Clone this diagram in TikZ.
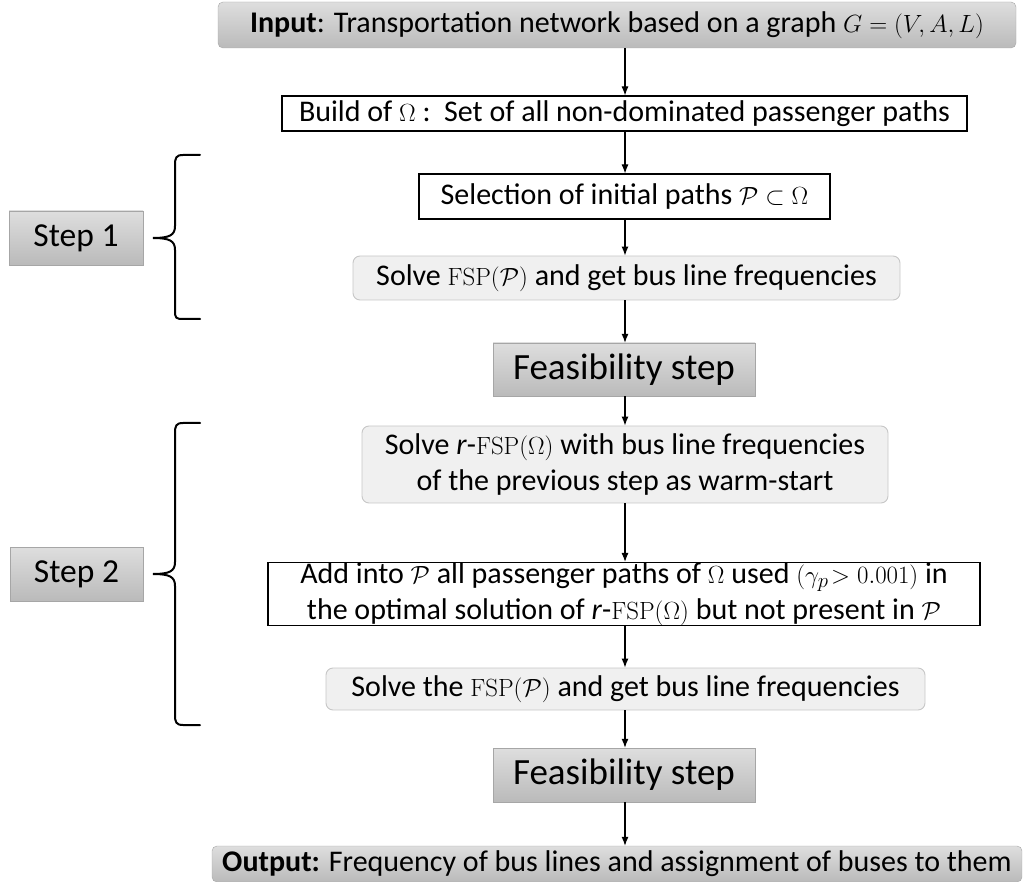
\documentclass[tikz,border=0pt]{standalone}
\usepackage[no-math]{fontspec}
\setmainfont{Carlito}
\usetikzlibrary{arrows.meta}
\begin{document}
\begin{tikzpicture}[x=1pt,y=-1pt,
  every node/.style={inner sep=0pt, align=center},
  darkbox/.style={draw=black!35, top color=black!13, bottom color=black!27, font=\fontsize{37}{42}\selectfont},
  stepbox/.style={darkbox, font=\fontsize{33.5}{40}\selectfont},
  darkround/.style={darkbox, rounded corners=5pt, font=\fontsize{30}{34}\selectfont},
  lightround/.style={draw=black!22, fill=black!6, rounded corners=7pt, line width=0.9pt, font=\fontsize{30}{36}\selectfont},
  plainbox/.style={draw=black, fill=white, line width=1.1pt, font=\fontsize{30}{36}\selectfont},
  arr/.style={-{Latex[length=9pt,width=7pt]}, line width=1.1pt},
  bracestyle/.style={line width=2pt, line cap=round}
]
\useasboundingbox (0,0) rectangle (1026,882);
\coordinate (col) at (625,0);
\node[darkround, minimum width=798pt, minimum height=46pt] (in) at (617,25)
  {\textbf{Input}: Transportation network based on a graph $G=(V,A,L)$};
\node[plainbox, minimum width=685pt, minimum height=35pt] (build) at (624.5,113.5)
  {Build of $\Omega$ :\ \ Set of all non-dominated passenger paths};
\node[plainbox, minimum width=411pt, minimum height=45pt] (sel) at (624.5,196.5)
  {Selection of initial paths $\mathcal{P}\subset\Omega$};
\node[lightround, minimum width=547pt, minimum height=44pt] (fsp1) at (626.5,278)
  {Solve $\mathrm{FSP}(\mathcal{P})$ and get bus line frequencies};
\node[darkbox, minimum width=262pt, minimum height=53pt] (feas1) at (624,369.5)
  {Feasibility step};
\node[lightround, minimum width=526pt, minimum height=77pt] (rfsp) at (625,464.5)
  {Solve \textit{r}-$\mathrm{FSP}(\Omega)$ with bus line frequencies\\of the previous step as warm-start};
\node[plainbox, minimum width=712pt, minimum height=56pt] (add) at (624,594)
  {Add into $\mathcal{P}$ all passenger paths of $\Omega$ used $(\gamma_p\!> 0.001)$ in\\the optimal solution of \textit{r}-$\mathrm{FSP}(\Omega)$ but not present in $\mathcal{P}$};
\node[lightround, minimum width=599pt, minimum height=42pt] (fsp2) at (625.5,689)
  {Solve the $\mathrm{FSP}(\mathcal{P})$ and get bus line frequencies};
\node[darkbox, minimum width=262pt, minimum height=54pt] (feas2) at (624,775)
  {Feasibility step};
\node[darkround, minimum width=810pt, minimum height=36pt] (out) at (617,864)
  {\textbf{Output:} Frequency of bus lines and assignment of buses to them};
\node[stepbox, minimum width=134pt, minimum height=54pt] (s1) at (76,238) {Step 1};
\node[stepbox, minimum width=133pt, minimum height=54pt] (s2) at (76.5,574) {Step 2};
\foreach \a/\b in {in/build,build/sel,sel/fsp1,fsp1/feas1,feas1/rfsp,rfsp/add,add/fsp2,fsp2/feas2,feas2/out}
  \draw[arr] (\a.south -| col) -- (\b.north -| col);
% braces
\draw[bracestyle] (200,155) -- (183,155) .. controls (176,155) and (175,158) .. (175,165)
  -- (175,226) .. controls (175,235) and (170,238) .. (153,238)
  .. controls (170,238) and (175,241) .. (175,250) -- (175,311)
  .. controls (175,318) and (176,319) .. (183,319) -- (200,319);
\draw[bracestyle] (200,423) -- (183,423) .. controls (176,423) and (175,426) .. (175,433)
  -- (175,562) .. controls (175,571) and (170,574) .. (153,574)
  .. controls (170,574) and (175,577) .. (175,586) -- (175,715)
  .. controls (175,722) and (176,725) .. (183,725) -- (200,725);
\end{tikzpicture}
\end{document}
